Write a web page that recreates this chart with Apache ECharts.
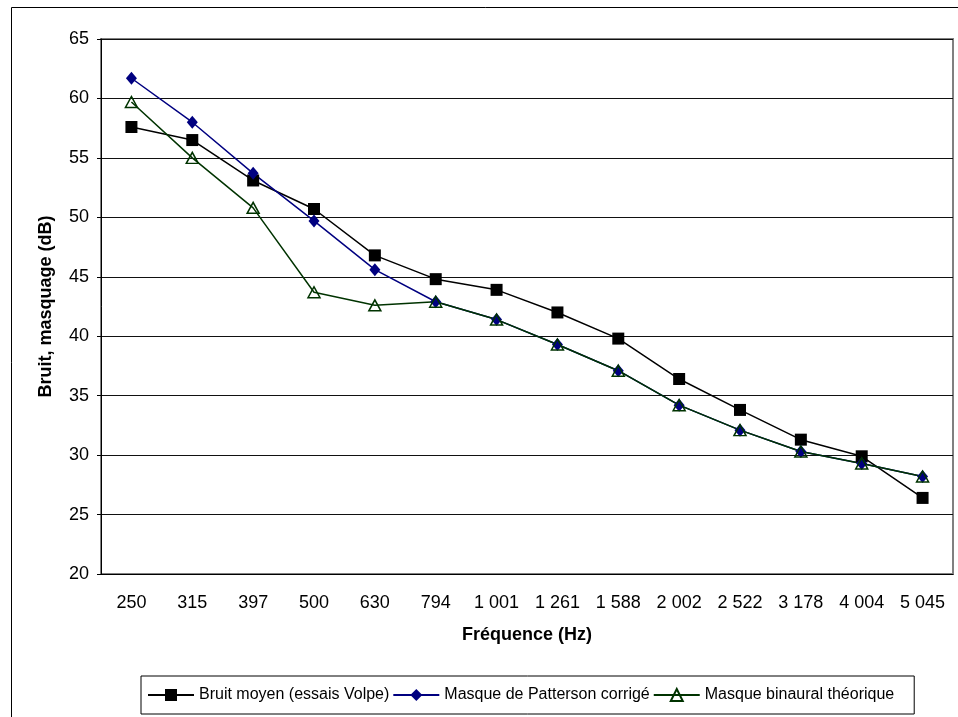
<!DOCTYPE html>
<html>
<head>
<meta charset="utf-8">
<script src="https://cdn.jsdelivr.net/npm/echarts@6/dist/echarts.min.js"></script>
<style>
  html, body { margin: 0; padding: 0; background: #fff; }
  #chart { width: 958px; height: 717px; }
</style>
</head>
<body>
<div id="chart"></div>
<script>
const frequencies = ['250', '315', '397', '500', '630', '794', '1 001', '1 261', '1 588', '2 002', '2 522', '3 178', '4 004', '5 045'];
const bruitMoyen = [57.6, 56.5, 53.1, 50.7, 46.8, 44.8, 43.9, 42.0, 39.8, 36.4, 33.8, 31.3, 29.9, 26.4];
const masquePatterson = [61.7, 58.0, 53.7, 49.7, 45.6, 42.9, 41.4, 39.3, 37.1, 34.2, 32.1, 30.3, 29.3, 28.2];
const masqueBinaural = [59.7, 55.0, 50.8, 43.7, 42.6, 42.9, 41.4, 39.3, 37.1, 34.2, 32.1, 30.3, 29.3, 28.2];

const font = 'Liberation Sans, Arial, sans-serif';

const chart = echarts.init(document.getElementById('chart'));
chart.setOption({
  animation: false,
  textStyle: { fontFamily: font },
  graphic: [{
    type: 'rect',
    left: 9,
    top: 5,
    shape: { width: 1000, height: 800 },
    style: { fill: 'none', stroke: '#000', lineWidth: 1 },
    silent: true
  }],
  grid: {
    left: 101,
    right: 5,
    top: 39,
    bottom: 143,
    show: true,
    borderColor: '#808080',
    borderWidth: 2
  },
  legend: {
    left: 141,
    top: 676,
    padding: [11, 20, 11, 6],
    borderColor: '#000',
    borderWidth: 1,
    itemWidth: 46,
    itemHeight: 15,
    itemGap: 3,
    textStyle: { fontSize: 16, color: '#000', fontFamily: font },
    data: ['Bruit moyen (essais Volpe)', 'Masque de Patterson corrigé', 'Masque binaural théorique']
  },
  xAxis: {
    type: 'category',
    data: frequencies,
    name: 'Fréquence (Hz)',
    nameLocation: 'middle',
    nameGap: 52,
    nameTextStyle: { fontSize: 18, fontWeight: 'bold', color: '#000' },
    axisLine: { lineStyle: { color: '#000', width: 1 } },
    axisTick: { length: 4, lineStyle: { color: '#000' } },
    axisLabel: { fontSize: 18, color: '#000', margin: 20, interval: 0 }
  },
  yAxis: {
    type: 'value',
    min: 20,
    max: 65,
    interval: 5,
    name: 'Bruit, masquage (dB)',
    nameLocation: 'middle',
    nameGap: 46,
    nameTextStyle: { fontSize: 18, fontWeight: 'bold', color: '#000' },
    axisLine: { show: true, lineStyle: { color: '#000', width: 1 } },
    axisTick: { show: true, length: 4, lineStyle: { color: '#000' } },
    axisLabel: { fontSize: 18, color: '#000', margin: 12 },
    splitLine: { lineStyle: { color: '#111', width: 1 } }
  },
  series: [
    {
      name: 'Bruit moyen (essais Volpe)',
      type: 'line',
      data: bruitMoyen,
      symbol: 'rect',
      symbolSize: 12,
      lineStyle: { color: '#000', width: 1.5 },
      itemStyle: { color: '#000' }
    },
    {
      name: 'Masque de Patterson corrigé',
      type: 'line',
      data: masquePatterson,
      symbol: 'diamond',
      symbolSize: [11, 13],
      lineStyle: { color: '#000080', width: 1.5 },
      itemStyle: { color: '#000080' }
    },
    {
      name: 'Masque binaural théorique',
      type: 'line',
      data: masqueBinaural,
      symbol: 'triangle',
      symbolSize: [12, 11],
      lineStyle: { color: '#003300', width: 1.5 },
      itemStyle: { color: 'rgba(0,0,0,0)', borderColor: '#003300', borderWidth: 1.5 }
    }
  ]
});
</script>
</body>
</html>
